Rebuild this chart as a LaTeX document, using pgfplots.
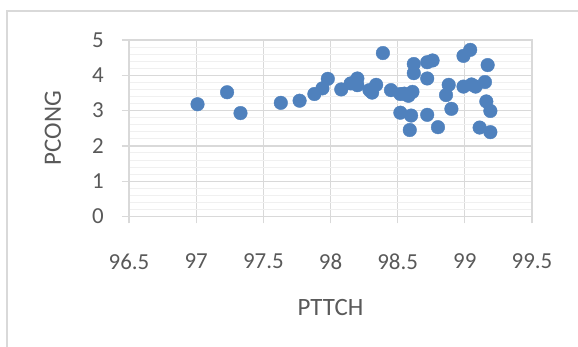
\documentclass[border=0pt]{standalone}
\usepackage{pgfplots}
\pgfplotsset{compat=1.18}
\usepackage{fontspec}
\setmainfont{Carlito}
\definecolor{ptblue}{HTML}{4F81BD}
\definecolor{gridc}{HTML}{D9D9D9}
\definecolor{minorc}{HTML}{F0F0F0}
\definecolor{txt}{HTML}{595959}
\begin{document}
\begin{tikzpicture}
\path[use as bounding box] (0,0) rectangle (578bp,347bp);
\draw[gridc, line width=1.6bp] (7bp,0) -- (7bp,336bp) -- (578bp,336bp);
\begin{axis}[
  at={(129bp,130.5bp)}, anchor=south west,
  scale only axis, width=403bp, height=176.5bp,
  xmin=96.5, xmax=99.5, ymin=0, ymax=5,
  xtick={96.5,97,97.5,98,98.5,99,99.5},
  xticklabels={96.5,97,97.5,98,98.5,99,99.5},
  ytick={0,1,2,3,4,5},
  yticklabels={0,1,2,3,4,5},
  minor y tick num=4,
  grid=both,
  major grid style={gridc, line width=1.2bp},
  minor grid style={minorc, line width=1bp},
  axis line style={gridc, line width=1.2bp},
  tick align=outside, xtick pos=bottom, ytick pos=left,
  major tick length=7bp, minor tick length=0pt,
  major tick style={gridc, line width=1.2bp},
  tick label style={font=\fontsize{23}{27}\selectfont, text=txt},
  xticklabel style={anchor=center, inner sep=0pt, yshift=-38bp},
  yticklabel style={anchor=east, inner sep=0pt, xshift=-18bp},
  xlabel={PTTCH}, ylabel={PCONG},
  label style={font=\fontsize{25}{30}\selectfont, text=txt},
  xlabel style={at={(axis description cs:0.5,-0.515)}, anchor=center},
  ylabel style={at={(axis description cs:-0.1886,0.5)}, anchor=center, rotate=0},
  clip=false,
]
\addplot[only marks, color=ptblue, mark=*, mark size=6.8bp, mark options={fill=ptblue, draw=ptblue, line width=0.4bp}] coordinates {
(97.01,3.18) (97.23,3.52) (97.33,2.93) (97.63,3.22) (97.77,3.28)
(97.88,3.47) (97.94,3.63) (97.98,3.90) (98.08,3.60) (98.15,3.77)
(98.20,3.91) (98.20,3.72) (98.29,3.58) (98.31,3.51) (98.34,3.73)
(98.39,4.63) (98.45,3.58) (98.52,3.47) (98.55,3.48) (98.58,3.42)
(98.61,3.53) (98.52,2.94) (98.60,2.86) (98.59,2.45) (98.62,4.32)
(98.62,4.06) (98.72,4.37) (98.76,4.42) (98.72,3.91) (98.72,2.88)
(98.80,2.53) (98.88,3.73) (98.86,3.44) (98.90,3.05) (98.99,4.55)
(99.04,4.72) (98.99,3.68) (99.05,3.74) (99.08,3.68) (99.15,3.81)
(99.17,4.29) (99.16,3.26) (99.19,2.99) (99.11,2.52) (99.19,2.39)
};
\end{axis}
\end{tikzpicture}
\end{document}
